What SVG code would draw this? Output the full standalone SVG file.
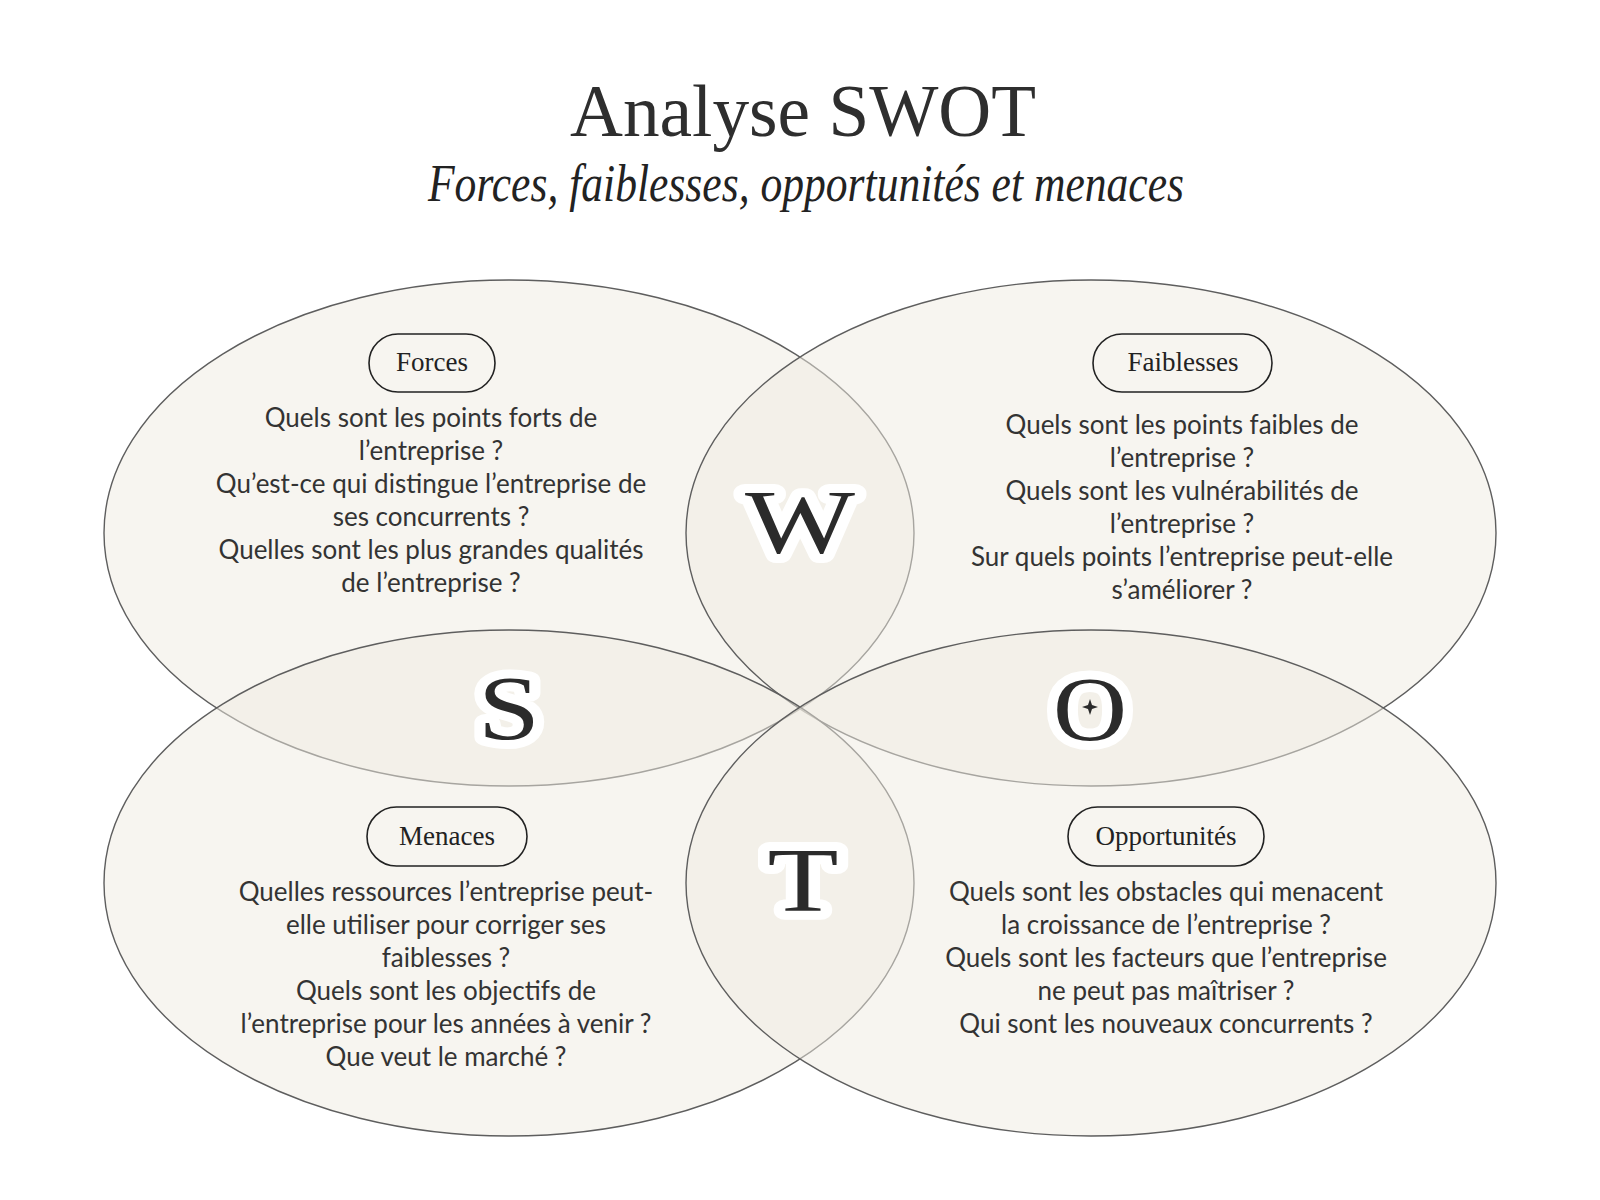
<svg xmlns="http://www.w3.org/2000/svg" width="1600" height="1200" viewBox="0 0 1600 1200">
<style>
.ell{fill:#efebe1;fill-opacity:0.5;stroke:#5e5e5e;stroke-width:1.4}
.pill{fill:none;stroke:#222;stroke-width:1.6}
.pt{font-family:"Liberation Serif","Times New Roman",serif;font-size:27px;fill:#222;text-anchor:middle}
.body{font-family:Lato,"Open Sans",sans-serif;font-size:26px;fill:#333;text-anchor:middle}
.big{font-family:"Liberation Serif","Times New Roman",serif;font-size:90px;fill:#2b2b2b;text-anchor:middle;stroke:#fff;stroke-width:18px;stroke-linejoin:round;paint-order:stroke}
.title{font-family:"Liberation Serif","Times New Roman",serif;font-size:74px;fill:#2e2e2e;text-anchor:middle}
.sub{font-family:"Liberation Serif","Times New Roman",serif;font-style:italic;font-size:52px;fill:#222;text-anchor:middle}
</style>
<rect width="1600" height="1200" fill="#ffffff"/>
<g id="title">
<text class="title" x="803" y="136" textLength="466" lengthAdjust="spacingAndGlyphs">Analyse SWOT</text>
<text class="sub" x="806" y="201" textLength="756" lengthAdjust="spacingAndGlyphs">Forces, faiblesses, opportunités et menaces</text>
</g>
<g id="circles">
<ellipse class="ell" cx="509" cy="533" rx="405" ry="253"/>
<ellipse class="ell" cx="1091" cy="533" rx="405" ry="253"/>
<ellipse class="ell" cx="509" cy="883" rx="405" ry="253"/>
<ellipse class="ell" cx="1091" cy="883" rx="405" ry="253"/>
</g>
<g id="letters">
<text class="big" x="800" y="553" textLength="110" lengthAdjust="spacingAndGlyphs">W</text>
<text class="big" x="509" y="739" textLength="62" lengthAdjust="spacingAndGlyphs">S</text>
<text class="big" x="1090" y="740" textLength="74" lengthAdjust="spacingAndGlyphs">O</text>
<path d="M1090 699 L1092 705 L1098 707 L1092 709 L1090 715 L1088 709 L1082 707 L1088 705 Z" fill="#2b2b2b"/>
<text class="big" x="803" y="911" textLength="71" lengthAdjust="spacingAndGlyphs">T</text>
</g>
<g id="forces">
<rect class="pill" x="369" y="334" width="126" height="58" rx="29"/>
<text class="pt" x="432" y="371">Forces</text>
<text class="body" x="431" y="427">Quels sont les points forts de</text>
<text class="body" x="431" y="460">l’entreprise ?</text>
<text class="body" x="431" y="493">Qu’est-ce qui distingue l’entreprise de</text>
<text class="body" x="431" y="526">ses concurrents ?</text>
<text class="body" x="431" y="559">Quelles sont les plus grandes qualités</text>
<text class="body" x="431" y="592">de l’entreprise ?</text>
</g>
<g id="faiblesses">
<rect class="pill" x="1093" y="334" width="179" height="58" rx="29"/>
<text class="pt" x="1183" y="371">Faiblesses</text>
<text class="body" x="1182" y="434">Quels sont les points faibles de</text>
<text class="body" x="1182" y="467">l’entreprise ?</text>
<text class="body" x="1182" y="500">Quels sont les vulnérabilités de</text>
<text class="body" x="1182" y="533">l’entreprise ?</text>
<text class="body" x="1182" y="566">Sur quels points l’entreprise peut-elle</text>
<text class="body" x="1182" y="599">s’améliorer ?</text>
</g>
<g id="menaces">
<rect class="pill" x="367" y="807" width="160" height="59" rx="29.5"/>
<text class="pt" x="447" y="845">Menaces</text>
<text class="body" x="446" y="901">Quelles ressources l’entreprise peut-</text>
<text class="body" x="446" y="934">elle utiliser pour corriger ses</text>
<text class="body" x="446" y="967">faiblesses ?</text>
<text class="body" x="446" y="1000">Quels sont les objectifs de</text>
<text class="body" x="446" y="1033">l’entreprise pour les années à venir ?</text>
<text class="body" x="446" y="1066">Que veut le marché ?</text>
</g>
<g id="opportunites">
<rect class="pill" x="1068" y="807" width="196" height="59" rx="29.5"/>
<text class="pt" x="1166" y="845">Opportunités</text>
<text class="body" x="1166" y="901">Quels sont les obstacles qui menacent</text>
<text class="body" x="1166" y="934">la croissance de l’entreprise ?</text>
<text class="body" x="1166" y="967">Quels sont les facteurs que l’entreprise</text>
<text class="body" x="1166" y="1000">ne peut pas maîtriser ?</text>
<text class="body" x="1166" y="1033">Qui sont les nouveaux concurrents ?</text>
</g>
</svg>
